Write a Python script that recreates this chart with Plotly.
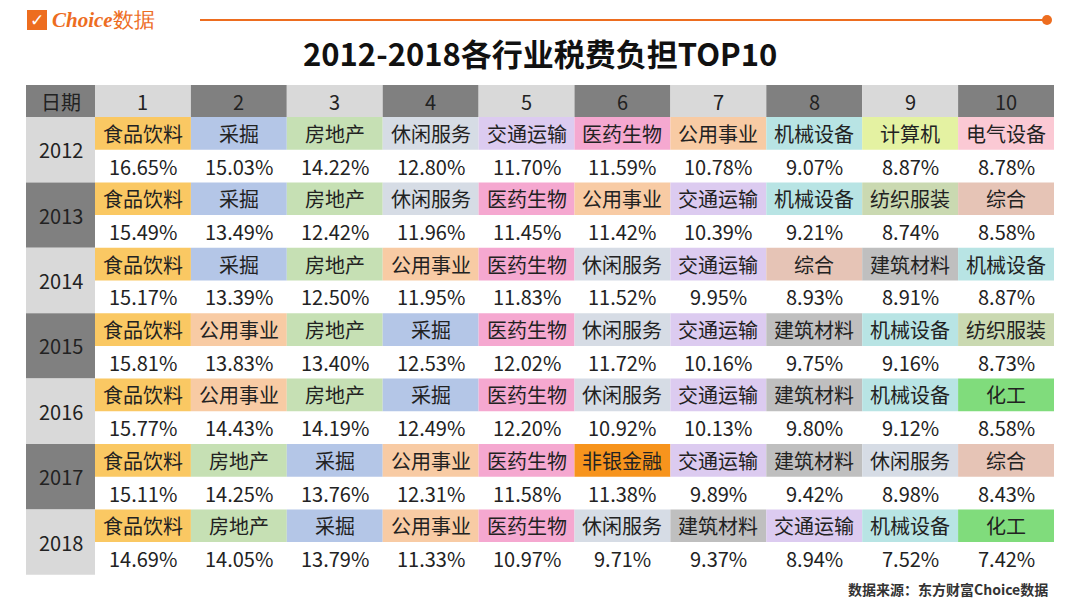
import plotly.graph_objects as go

years = ["2012","2013","2014","2015","2016","2017","2018"]
ranks = ["1","2","3","4","5","6","7","8","9","10"]
industries = [
 ["食品饮料","采掘","房地产","休闲服务","交通运输","医药生物","公用事业","机械设备","计算机","电气设备"],
 ["食品饮料","采掘","房地产","休闲服务","医药生物","公用事业","交通运输","机械设备","纺织服装","综合"],
 ["食品饮料","采掘","房地产","公用事业","医药生物","休闲服务","交通运输","综合","建筑材料","机械设备"],
 ["食品饮料","公用事业","房地产","采掘","医药生物","休闲服务","交通运输","建筑材料","机械设备","纺织服装"],
 ["食品饮料","公用事业","房地产","采掘","医药生物","休闲服务","交通运输","建筑材料","机械设备","化工"],
 ["食品饮料","房地产","采掘","公用事业","医药生物","非银金融","交通运输","建筑材料","休闲服务","综合"],
 ["食品饮料","房地产","采掘","公用事业","医药生物","休闲服务","建筑材料","交通运输","机械设备","化工"],
]
rates = [
 [16.65,15.03,14.22,12.80,11.70,11.59,10.78,9.07,8.87,8.78],
 [15.49,13.49,12.42,11.96,11.45,11.42,10.39,9.21,8.74,8.58],
 [15.17,13.39,12.50,11.95,11.83,11.52,9.95,8.93,8.91,8.87],
 [15.81,13.83,13.40,12.53,12.02,11.72,10.16,9.75,9.16,8.73],
 [15.77,14.43,14.19,12.49,12.20,10.92,10.13,9.80,9.12,8.58],
 [15.11,14.25,13.76,12.31,11.58,11.38,9.89,9.42,8.98,8.43],
 [14.69,14.05,13.79,11.33,10.97,9.71,9.37,8.94,7.52,7.42],
]
colors = {"食品饮料":"#fac863","采掘":"#b4c6e7","房地产":"#c6e0b4","休闲服务":"#d6dce5",
 "交通运输":"#dccbf0","医药生物":"#f5a8d0","公用事业":"#f8cba4","机械设备":"#b8e4e4",
 "计算机":"#e4f2a2","电气设备":"#fbc9d4","纺织服装":"#cad9b1","综合":"#e6c4b6",
 "建筑材料":"#bfbfbf","化工":"#80dc7c","非银金融":"#f7941d"}

LIGHT, DARK = "#d9d9d9", "#808080"
OX, OY = -8, -9
x0, x1c, cw = 26+OX, 95+OX, 95.9
ytop, hh, rh = 86+OY, 32, 32.7
shapes, ann = [], []
font = dict(family="Noto Sans CJK SC", size=20, color="#222")
def rect(xa, ya, xb, yb, c):
    shapes.append(dict(type="rect", x0=xa, x1=xb, y0=ya, y1=yb, fillcolor=c, line=dict(width=0), layer="below"))
def txt(x, y, t, **kw):
    f = dict(font); f.update(kw.pop("font", {}))
    ann.append(dict(x=x, y=y, text=t, showarrow=False, font=f, xanchor="center", yanchor="middle", **kw))

rect(x0, ytop, x1c, ytop+hh, "#7f7f7f"); txt((x0+x1c)/2, ytop+hh/2, "日期")
for j, r in enumerate(ranks):
    xa = x1c + j*cw
    rect(xa, ytop, xa+cw, ytop+hh, LIGHT if j % 2 == 0 else DARK)
    txt(xa+cw/2, ytop+hh/2, r)
for i, yr in enumerate(years):
    ya = ytop + hh + i*2*rh
    rect(x0, ya, x1c, ya+2*rh, LIGHT if i % 2 == 0 else DARK)
    txt((x0+x1c)/2, ya+rh, yr)
    for j in range(10):
        xa = x1c + j*cw
        rect(xa, ya, xa+cw, ya+rh, colors[industries[i][j]])
        txt(xa+cw/2, ya+rh/2, industries[i][j])
        txt(xa+cw/2, ya+1.5*rh, f"{rates[i][j]:.2f}%")

LY = 12
shapes.append(dict(type="line", x0=200+OX, x1=1045+OX, y0=LY, y1=LY, line=dict(color="#ed6d1f", width=2)))
shapes.append(dict(type="circle", x0=1042+OX, x1=1052+OX, y0=LY-5, y1=LY+5, fillcolor="#ed6d1f", line=dict(width=0)))
shapes.append(dict(type="rect", x0=27+OX, x1=47+OX, y0=LY-10, y1=LY+10, fillcolor="#ed6d1f", line=dict(width=0)))
ann.append(dict(x=37+OX, y=LY, text="✓", showarrow=False, font=dict(size=17, color="white", family="DejaVu Sans"), xanchor="center", yanchor="middle"))
ann.append(dict(x=50+OX, y=LY, text="<b><i>Choice</i></b>数据", showarrow=False, font=dict(size=21, color="#ed6d1f", family="Liberation Serif"), xanchor="left", yanchor="middle"))
ann.append(dict(x=540+OX, y=53+OY, text="<b>2012-2018各行业税费负担TOP10</b>", showarrow=False, font=dict(size=31, color="#111", family="Noto Sans CJK SC"), xanchor="center", yanchor="middle"))
ann.append(dict(x=1050+OX, y=590+OY, text="<b>数据来源：东方财富Choice数据</b>", showarrow=False, font=dict(size=14, color="#333", family="Noto Sans CJK SC"), xanchor="right", yanchor="middle"))

fig = go.Figure(go.Scatter(x=[0, 1080], y=[0, 607], mode="markers", marker=dict(opacity=0), hoverinfo="skip"))
fig.update_layout(width=1080, height=607, margin=dict(l=0, r=0, t=0, b=0), plot_bgcolor="white", paper_bgcolor="white",
    xaxis=dict(range=[0, 1080], visible=False, fixedrange=True),
    yaxis=dict(range=[607, 0], visible=False, fixedrange=True),
    shapes=shapes, annotations=ann, showlegend=False)
fig.write_html("out.html")
